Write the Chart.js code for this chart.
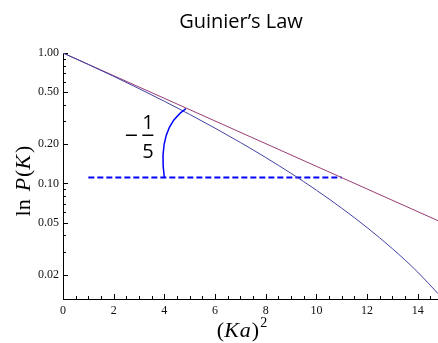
<!DOCTYPE html>
<html>
<head>
<meta charset="utf-8">
<script src="https://cdn.jsdelivr.net/npm/chart.js@4.4.1/dist/chart.umd.min.js"></script>
<style>
  html, body { margin: 0; padding: 0; background: #fff; }
</style>
</head>
<body>
<canvas id="guinier" width="438" height="343"></canvas>
<script>
// (Ka)^2 sample points and the sphere form factor P(K) at each one
const qa2 = [0, 1, 2, 3, 4, 5, 6, 7, 8, 9, 10, 11, 12, 13, 14, 14.8];
const sphereP = [1, 0.8163, 0.6622, 0.5336, 0.4265, 0.3381, 0.2654, 0.2061,
                 0.1581, 0.1195, 0.0888, 0.0646, 0.0459, 0.0316, 0.0209, 0.0143];

// Guinier approximation, straight on the log axis
const guinierX = [0, 14.8];
const guinierP = [1, 0.0518];

// dashed horizontal reference for the slope marker
const refX = [1, 11];
const refP = [0.1108, 0.1108];

// slope marker arc: from the dashed line up to the Guinier line
const arcFrom = [4.0, 0.1108];
const arcTo = [4.85, 0.375];

const slopeText = ['1', '5'];

const xTicks = [0, 2, 4, 6, 8, 10, 12, 14];
const yTicks = [0.02, 0.05, 0.1, 0.2, 0.5, 1];
const yMinorTicks = [0.03, 0.04, 0.06, 0.07, 0.08, 0.09, 0.3, 0.4, 0.6, 0.7, 0.8, 0.9];

const serif = '"Liberation Serif", "DejaVu Serif", serif';
const sans = '"Open Sans", "Noto Sans", sans-serif';

function pts(xs, ys) {
    return xs.map((x, i) => ({x: x, y: ys[i]}));
}

// draws several text runs one after another, each with its own font
function drawRuns(ctx, runs, x, y) {
    let total = 0;
    for (let r of runs) {
        ctx.font = r.font;
        total += ctx.measureText(r.text).width + (r.gap || 0);
    }
    let cx = x - total / 2;
    for (let r of runs) {
        ctx.font = r.font;
        ctx.fillText(r.text, cx, y + (r.dy || 0));
        cx += ctx.measureText(r.text).width + (r.gap || 0);
    }
}

const decorations = {
    id: 'decorations',
    beforeDatasetsDraw(chart) {
        const ctx = chart.ctx;
        const xs = chart.scales.x, ys = chart.scales.y;
        const area = chart.chartArea;
        ctx.save();
        ctx.strokeStyle = '#000';
        ctx.lineWidth = 1;
        ctx.beginPath();
        // ticks on the x axis point up into the plot
        for (let v = 0; v <= xs.max + 1e-9; v += 0.5) {
            let px = Math.round(xs.getPixelForValue(v)) + 0.5;
            let len = (v % 2 === 0) ? 5 : 3;
            ctx.moveTo(px, area.bottom);
            ctx.lineTo(px, area.bottom - len);
        }
        // ticks on the y axis point right
        for (let v of yTicks.concat(yMinorTicks)) {
            let py = Math.round(ys.getPixelForValue(v)) + 0.5;
            let len = yTicks.includes(v) ? 5 : 3;
            ctx.moveTo(area.left, py);
            ctx.lineTo(area.left + len, py);
        }
        ctx.stroke();
        ctx.restore();
    },
    afterDraw(chart) {
        const ctx = chart.ctx;
        const xs = chart.scales.x, ys = chart.scales.y;
        ctx.save();

        // slope marker arc
        let sx = xs.getPixelForValue(arcFrom[0]), sy = ys.getPixelForValue(arcFrom[1]);
        let ex = xs.getPixelForValue(arcTo[0]), ey = ys.getPixelForValue(arcTo[1]);
        ctx.strokeStyle = '#0000ff';
        ctx.lineWidth = 1.5;
        ctx.beginPath();
        ctx.moveTo(sx, sy);
        ctx.quadraticCurveTo(sx - 7, sy - 50, ex, ey);
        ctx.stroke();

        // "-1/5" label left of the arc
        let fx = xs.getPixelForValue(3.35), fy = ys.getPixelForValue(0.234);
        ctx.fillStyle = '#000';
        ctx.strokeStyle = '#000';
        ctx.lineWidth = 1.3;
        ctx.beginPath();
        ctx.moveTo(fx - 22, fy);
        ctx.lineTo(fx - 11, fy);
        ctx.moveTo(fx - 5.5, fy);
        ctx.lineTo(fx + 5.5, fy);
        ctx.stroke();
        ctx.font = '20px ' + sans;
        ctx.textAlign = 'center';
        ctx.textBaseline = 'alphabetic';
        ctx.fillText(slopeText[0], fx, fy - 6);
        ctx.fillText(slopeText[1], fx, fy + 23);

        // title
        ctx.font = '20px ' + sans;
        ctx.fillText('Guinier\u2019s Law', 241, 28);

        // x axis title (Ka)^2
        ctx.textAlign = 'left';
        drawRuns(ctx, [
            {text: '(', font: '22px ' + serif},
            {text: 'K', font: 'italic 22px ' + serif, gap: 1},
            {text: 'a', font: 'italic 22px ' + serif, gap: 1},
            {text: ')', font: '22px ' + serif, gap: 1},
            {text: '2', font: '14px ' + serif, dy: -10}
        ], 242, 337);

        // y axis title ln P(K)
        ctx.translate(30, 181);
        ctx.rotate(-Math.PI / 2);
        drawRuns(ctx, [
            {text: 'ln', font: '22px ' + serif, gap: 8},
            {text: 'P', font: 'italic 22px ' + serif, gap: 1},
            {text: '(', font: '22px ' + serif, gap: 0},
            {text: 'K', font: 'italic 22px ' + serif, gap: 2},
            {text: ')', font: '22px ' + serif}
        ], 0, 0);
        ctx.restore();
    }
};

new Chart(document.getElementById('guinier'), {
    type: 'line',
    data: {
        datasets: [
            {
                data: pts(qa2, sphereP),
                borderColor: '#4141a3',
                borderWidth: 1,
                pointRadius: 0,
                cubicInterpolationMode: 'monotone'
            },
            {
                data: pts(guinierX, guinierP),
                borderColor: '#993d74',
                borderWidth: 1,
                pointRadius: 0
            },
            {
                data: pts(refX, refP),
                borderColor: '#0000ff',
                borderWidth: 2,
                borderDash: [6, 3],
                pointRadius: 0
            }
        ]
    },
    options: {
        responsive: false,
        animation: false,
        events: [],
        layout: {padding: {top: 53, right: 0, left: 0, bottom: 0}},
        plugins: {legend: {display: false}, tooltip: {enabled: false}, title: {display: false}},
        scales: {
            x: {
                type: 'linear',
                min: 0,
                max: 14.8,
                afterFit: (s) => { s.height = 44; },
                afterBuildTicks: (s) => { s.ticks = xTicks.map(v => ({value: v})); },
                grid: {display: false, drawTicks: false},
                border: {display: true, color: '#000', width: 1},
                ticks: {
                    padding: 5,
                    color: '#111',
                    font: {family: serif, size: 12},
                    maxRotation: 0,
                    autoSkip: false,
                    callback: (v) => String(v)
                }
            },
            y: {
                type: 'logarithmic',
                min: 0.013,
                max: 1,
                afterFit: (s) => { s.width = 63; },
                afterBuildTicks: (s) => { s.ticks = yTicks.map(v => ({value: v})); },
                grid: {display: false, drawTicks: false},
                border: {display: true, color: '#000', width: 1},
                ticks: {
                    padding: 4,
                    color: '#111',
                    font: {family: serif, size: 12},
                    autoSkip: false,
                    callback: (v) => Number(v).toFixed(2)
                }
            }
        }
    },
    plugins: [decorations]
});
</script>
</body>
</html>
